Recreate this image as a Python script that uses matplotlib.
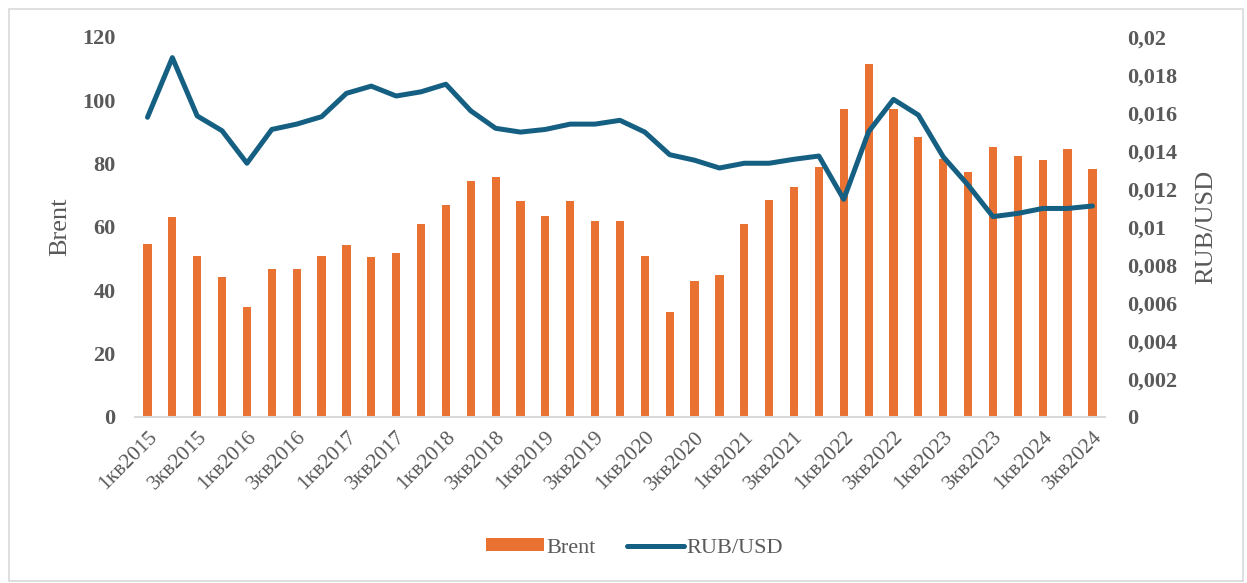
import numpy as np
import matplotlib.pyplot as plt
from matplotlib.patches import Rectangle
from matplotlib.ticker import FuncFormatter

# ---- data ----
years = list(range(2015, 2025))
quarters = [f"{q}кв{y}" for y in years for q in (1, 2, 3, 4)][:39]

brent = [54.6, 63.0, 50.7, 44.0, 34.7, 46.5, 46.5, 50.7, 54.1, 50.3,
         51.6, 60.8, 66.7, 74.3, 75.6, 68.0, 63.4, 68.0, 61.7, 61.7,
         50.7, 33.1, 42.7, 44.8, 60.8, 68.4, 72.6, 78.9, 97.1, 111.4,
         97.1, 88.2, 81.5, 77.3, 85.3, 82.3, 81.1, 84.4, 78.1]

rub_usd = [0.01576, 0.0189, 0.01583, 0.01505, 0.01334, 0.01512, 0.0154, 0.01579,
           0.01702, 0.0174, 0.01688, 0.0171, 0.0175, 0.0161, 0.01518, 0.01498,
           0.01512, 0.0154, 0.0154, 0.0156, 0.01498, 0.01379, 0.0135, 0.01309,
           0.01334, 0.01334, 0.01355, 0.01372, 0.01144, 0.0150, 0.0167, 0.01588,
           0.01368, 0.01219, 0.01053, 0.0107, 0.01096, 0.01096, 0.01109]

ORANGE = "#E97132"
BLUE = "#156082"
GREY = "#595959"
FONT = "Liberation Serif"

plt.rcParams['font.family'] = FONT

fig = plt.figure(figsize=(12.47, 5.83), dpi=100)
fig.patches.append(Rectangle((0.007, 0.003), 0.99, 0.982, transform=fig.transFigure,
                             fill=False, edgecolor="#D9D9D9", lw=1.2))

ax = fig.add_axes([0.1083, 0.2853, 0.7777, 0.6517])
x = np.arange(len(quarters))
ax.bar(x, brent, width=0.33, color=ORANGE, zorder=2, label="Brent")
ax.set_xlim(-0.5, len(quarters) - 0.5)
ax.set_ylim(0, 120)
ax.set_yticks(range(0, 121, 20))

ax2 = ax.twinx()
ax2.plot(x, rub_usd, color=BLUE, lw=3.6, solid_capstyle='round', zorder=3, label="RUB/USD")
ax2.set_ylim(0, 0.02)
ax2.set_yticks(np.arange(0, 0.0201, 0.002))
ax2.yaxis.set_major_formatter(FuncFormatter(
    lambda v, p: "0" if abs(v) < 1e-12 else f"{v:.3f}".rstrip("0").replace(".", ",")))

for a in (ax, ax2):
    for s in a.spines.values():
        s.set_visible(False)
    a.tick_params(length=0)
ax.spines['bottom'].set_visible(True)
ax.spines['bottom'].set_color("#D9D9D9")
ax.spines['bottom'].set_linewidth(1.5)

ax.set_xticks(x[::2])
ax.set_xticklabels(quarters[::2], rotation=45, ha='right', rotation_mode='anchor',
                   fontsize=15.5, color=GREY)
ax.tick_params(axis='x', pad=8)
for lab in ax.get_yticklabels():
    lab.set_fontweight('bold')
ax.tick_params(axis='y', labelsize=16, labelcolor=GREY, pad=14)
ax2.tick_params(axis='y', labelsize=16, labelcolor=GREY, pad=16)
for lab in ax2.get_yticklabels():
    lab.set_fontweight('bold')

ax.set_ylabel("Brent", fontsize=19, color=GREY, labelpad=8)
ax2.set_ylabel("RUB/USD", fontsize=19, color=GREY, labelpad=13)

h1, l1 = ax.get_legend_handles_labels()
h2, l2 = ax2.get_legend_handles_labels()
fig.legend(h1 + h2, l1 + l2, loc='center', bbox_to_anchor=(0.509, 0.06), ncol=2,
           frameon=False, fontsize=16, labelcolor=GREY, handlelength=2.6,
           handleheight=0.5, handletextpad=0.1, columnspacing=1.4)

fig.savefig("out.png", dpi=100)
